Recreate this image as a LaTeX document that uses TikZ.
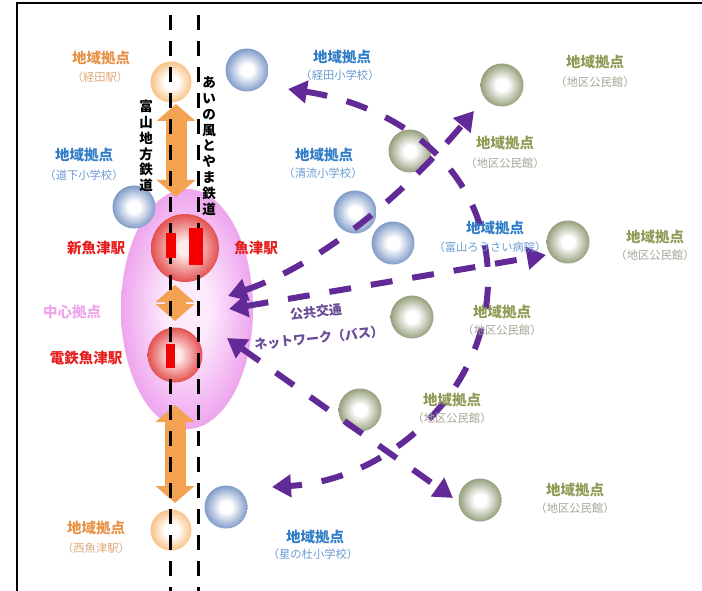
\documentclass[tikz,border=0pt]{standalone}
\usepackage{fontspec}
\newfontfamily\jp{Noto Sans CJK JP}
\usetikzlibrary{arrows.meta,shapes.geometric}
\definecolor{busc}{RGB}{98,42,150}
\definecolor{bustxt}{RGB}{105,75,150}
\definecolor{orgtxt}{RGB}{232,146,72}
\definecolor{orgsub}{RGB}{222,170,125}
\definecolor{bluetxt}{RGB}{50,125,200}
\definecolor{bluesub}{RGB}{105,155,210}
\definecolor{grntxt}{RGB}{145,155,85}
\definecolor{grnsub}{RGB}{165,165,150}
\definecolor{redtxt}{RGB}{230,30,30}
\definecolor{pinktxt}{RGB}{240,165,235}
\definecolor{orgarrow}{RGB}{243,162,82}
\definecolor{bluec}{RGB}{128,155,200}
\definecolor{grnc}{RGB}{150,160,125}
\definecolor{orgc}{RGB}{248,195,135}
\definecolor{redc}{RGB}{228,80,80}
\definecolor{redin}{RGB}{255,235,235}
\definecolor{pinkc}{RGB}{238,165,238}
\definecolor{pinkin}{RGB}{253,235,253}
\definecolor{rectred}{RGB}{245,0,0}
\pgfdeclareradialshading{blueshade}{\pgfpoint{0bp}{0bp}}{color(0bp)=(white); color(7bp)=(white); color(25bp)=(bluec); color(50bp)=(bluec)}
\pgfdeclareradialshading{grnshade}{\pgfpoint{0bp}{0bp}}{color(0bp)=(white); color(7bp)=(white); color(25bp)=(grnc); color(50bp)=(grnc)}
\pgfdeclareradialshading{orgshade}{\pgfpoint{0bp}{0bp}}{color(0bp)=(white); color(8bp)=(white); color(25bp)=(orgc); color(50bp)=(orgc)}
\pgfdeclareradialshading{redshade}{\pgfpoint{0bp}{0bp}}{color(0bp)=(redin); color(5bp)=(redin); color(25bp)=(redc); color(50bp)=(redc)}
\pgfdeclareradialshading{pinkshade}{\pgfpoint{0bp}{0bp}}{color(0bp)=(pinkin); color(8bp)=(pinkin); color(25bp)=(pinkc); color(50bp)=(pinkc)}
\begin{document}
\begin{tikzpicture}[x=1pt,y=-1pt,
  bluedot/.style={circle,inner sep=0pt,minimum size=43pt,shading=blueshade},
  grndot/.style={circle,inner sep=0pt,minimum size=43pt,shading=grnshade},
  orgdot/.style={circle,inner sep=0pt,minimum size=41pt,shading=orgshade},
  reddot/.style={circle,inner sep=0pt,shading=redshade},
  lbl/.style={inner sep=0pt,font=\jp\bfseries\fontsize{14.5}{17}\selectfont},
  sublbl/.style={inner sep=0pt,font=\jp\fontsize{11.3}{13}\selectfont},
  vtext/.style={inner sep=0pt,align=center,font=\jp\bfseries\fontsize{13.5}{15.8}\selectfont},
  buslbl/.style={inner sep=0pt,bustxt,rotate=6,font=\jp\bfseries\fontsize{13}{15}\selectfont},
  railline/.style={line width=3.5pt,dash pattern=on 15pt off 11pt},
  orgdbl/.style={orgarrow,line width=21pt,{Triangle[length=17pt,width=38pt]}-{Triangle[length=17pt,width=38pt]}},
  busarrow/.style={busc,line width=6pt,dash pattern=on 22pt off 20pt,{Triangle[length=19pt,width=22pt]}-{Triangle[length=19pt,width=22pt]}},
  stationrect/.style={fill=rectred,draw=none}
]
\useasboundingbox (0,0) rectangle (702,591);
% frame
\coordinate (fBL) at (17,591);
\coordinate (fTL) at (17,3);
\coordinate (fTR) at (702,3);
\draw[line width=1.6pt] (fBL) -- (fTL) -- (fTR);

% central ellipse
\node[ellipse,inner sep=0pt,minimum width=132pt,minimum height=240pt,shading=pinkshade] (center) at (187,309) {};

% circles
\node[orgdot] (oTop) at (171,82) {};
\node[orgdot] (oBot) at (171,530) {};
\node[bluedot] (bKeitaS) at (247,70) {};
\node[bluedot] (bDouge) at (134,207) {};
\node[bluedot] (bSeiryu) at (355,212) {};
\node[bluedot] (bRousai) at (393,243) {};
\node[bluedot] (bHoshi) at (226,507) {};
\node[grndot] (g1) at (502,85) {};
\node[grndot] (g2) at (410,151) {};
\node[grndot] (g3) at (568,242) {};
\node[grndot] (g4) at (412,317) {};
\node[grndot] (g5) at (360,410) {};
\node[grndot] (g6) at (480,500) {};
\node[reddot,minimum size=68pt] (rShin) at (185,248) {};
\node[reddot,minimum size=55pt] (rDen) at (175,355) {};

% orange double arrows
\coordinate (oa1) at (176,104);
\coordinate (oa2) at (176,197);
\coordinate (ob1) at (175,285);
\coordinate (ob2) at (175,321);
\coordinate (oc1) at (175,405);
\coordinate (oc2) at (175,503);
\draw[orgdbl] (oa1) -- (oa2);
\draw[orgdbl] (ob1) -- (ob2);
\draw[orgdbl] (oc1) -- (oc2);

% railway lines
\coordinate (rlA1) at (170.5,15);
\coordinate (rlA2) at (170.5,591);
\coordinate (rlB1) at (198.5,15);
\coordinate (rlB2) at (198.5,591);
\draw[railline] (rlA1) -- (rlA2);
\draw[railline] (rlB1) -- (rlB2);

% station rectangles
\path[stationrect] (166,233) rectangle (176,258);
\path[stationrect] (189,228) rectangle (203,265);
\path[stationrect] (166,344) rectangle (175,368);

% bus network arrows
\coordinate (arcTop) at (288,89);
\coordinate (arcMid) at (488,280);
\coordinate (arcBot) at (272,487);
\draw[busarrow] (arcTop) .. controls (400,106) and (488,170) .. (arcMid) .. controls (488,390) and (390,480) .. (arcBot);
\coordinate (dUa) at (228,296);
\coordinate (dUb) at (474,111);
\draw[busarrow] (dUa) .. controls (313,267) and (395,205) .. (dUb);
\coordinate (hA) at (229,309);
\coordinate (hB) at (546,255);
\draw[busarrow] (hA) -- (hB);
\coordinate (dDa) at (227,338);
\coordinate (dDb) at (453,498);
\draw[busarrow] (dDa) -- (dDb);

% vertical line names
\node[vtext] (tTetsu) at (146,146) {富\\山\\地\\方\\鉄\\道};
\node[vtext] (tAino) at (209,146) {あ\\い\\の\\風\\と\\や\\ま\\鉄\\道};

% labels
\node[lbl,orgtxt] (lKeita) at (101,58) {地域拠点};
\node[sublbl,orgsub] (sKeita) at (100,77) {（経田駅）};
\node[lbl,orgtxt] (lNishi) at (96,528) {地域拠点};
\node[sublbl,orgsub] (sNishi) at (96,548) {（西魚津駅）};

\node[lbl,bluetxt] (lDouge) at (84,155) {地域拠点};
\node[sublbl,bluesub] (sDouge) at (84,175) {（道下小学校）};
\node[lbl,bluetxt] (lKeitaS) at (342,57) {地域拠点};
\node[sublbl,bluesub] (sKeitaS) at (340,75) {（経田小学校）};
\node[lbl,bluetxt] (lSeiryu) at (324,155) {地域拠点};
\node[sublbl,bluesub] (sSeiryu) at (323,173) {（清流小学校）};
\node[lbl,bluetxt] (lRousai) at (495,228) {地域拠点};
\node[sublbl,bluesub] (sRousai) at (490,247) {（富山ろうさい病院）};
\node[lbl,bluetxt] (lHoshi) at (315,537) {地域拠点};
\node[sublbl,bluesub] (sHoshi) at (313,554) {（星の杜小学校）};

\node[lbl,grntxt] (lg1) at (595,62) {地域拠点};
\node[sublbl,grnsub] (sg1) at (595,82) {（地区公民館）};
\node[lbl,grntxt] (lg2) at (505,143) {地域拠点};
\node[sublbl,grnsub] (sg2) at (505,163) {（地区公民館）};
\node[lbl,grntxt] (lg3) at (655,237) {地域拠点};
\node[sublbl,grnsub] (sg3) at (655,255) {（地区公民館）};
\node[lbl,grntxt] (lg4) at (502,312) {地域拠点};
\node[sublbl,grnsub] (sg4) at (502,330) {（地区公民館）};
\node[lbl,grntxt] (lg5) at (452,400) {地域拠点};
\node[sublbl,grnsub] (sg5) at (452,418) {（地区公民館）};
\node[lbl,grntxt] (lg6) at (575,490) {地域拠点};
\node[sublbl,grnsub] (sg6) at (575,508) {（地区公民館）};

\node[lbl,redtxt] (lShin) at (96,248) {新魚津駅};
\node[lbl,redtxt] (lUozu) at (256,248) {魚津駅};
\node[lbl,redtxt] (lDen) at (86,358) {電鉄魚津駅};
\node[lbl,pinktxt] (lCenter) at (72,312) {中心拠点};

\node[buslbl] (lBus1) at (316,312) {公共交通};
\node[buslbl] (lBus2) at (319,338) {ネットワーク（バス）};
\end{tikzpicture}
\end{document}
